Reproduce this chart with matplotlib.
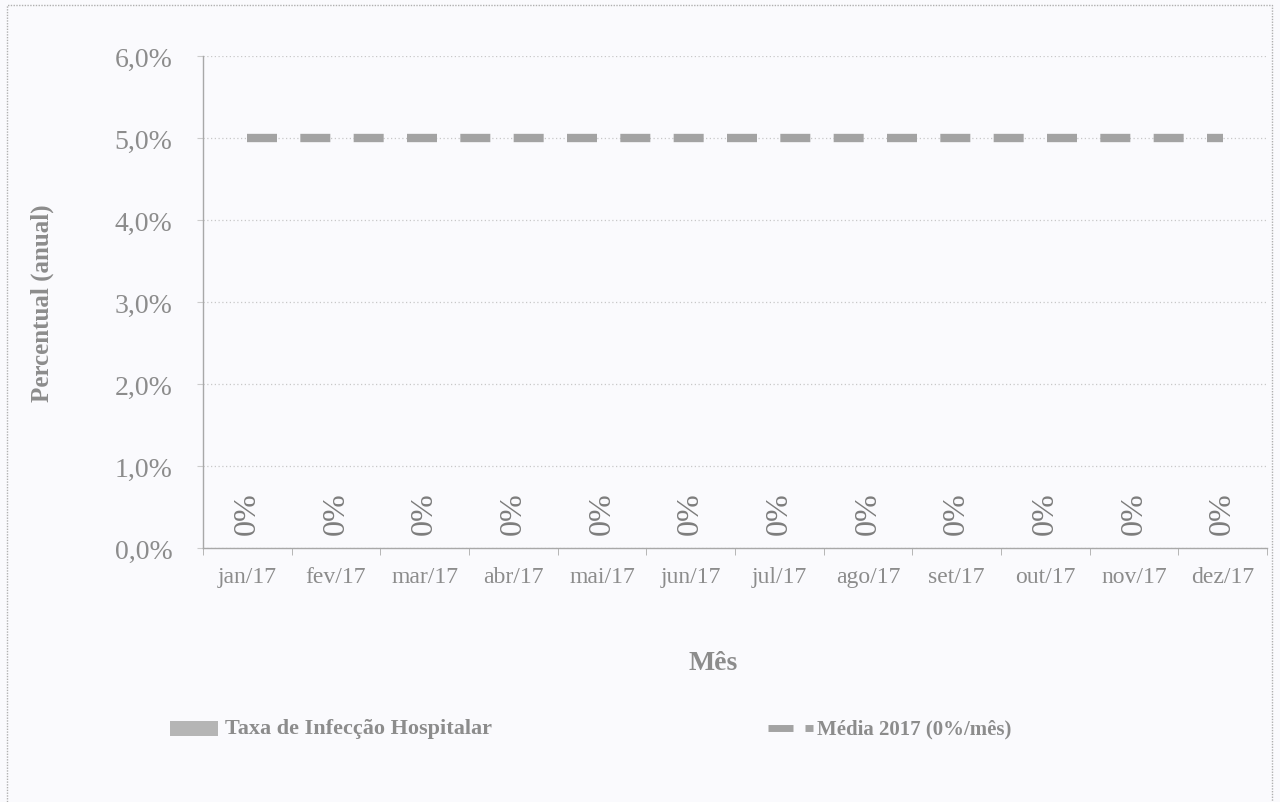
import matplotlib
matplotlib.use("Agg")
import matplotlib.pyplot as plt
from matplotlib.lines import Line2D
from matplotlib.patches import Rectangle

months = ["jan/17", "fev/17", "mar/17", "abr/17", "mai/17", "jun/17",
          "jul/17", "ago/17", "set/17", "out/17", "nov/17", "dez/17"]
taxa = [0, 0, 0, 0, 0, 0, 0, 0, 0, 0, 0, 0]
taxa_labels = ["0%"] * 12
media = [5.0] * 12
yticks = [0, 1, 2, 3, 4, 5, 6]
ytick_labels = ["0,0%", "1,0%", "2,0%", "3,0%", "4,0%", "5,0%", "6,0%"]
legend_labels = ["Taxa de Infecção Hospitalar", "Média 2017 (0%/mês)"]

plt.rcParams['font.family'] = ['Liberation Serif', 'DejaVu Serif']
TXT = '#8c8c8c'
BG = '#fafafd'
LINEC = '#a3a3a3'

W, H = 1280, 803
fig = plt.figure(figsize=(12.8, 8.03), dpi=100, facecolor=BG)
ax = fig.add_axes([203 / W, 1 - 549 / H, (1267 - 203) / W, (549 - 57) / H], facecolor=BG)

x = list(range(len(months)))
ax.bar(x, taxa, width=0.6, color='#b0b0b0', zorder=2)
for xi, lab in zip(x, taxa_labels):
    ax.annotate(lab, (xi, 0), xytext=(0, 10), textcoords='offset points',
                rotation=90, ha='center', va='bottom', fontsize=23,
                color='#7d7d7d')

ax.plot(x, media, color=LINEC, lw=6, dashes=(3.6, 2.8),
        solid_capstyle='butt', dash_capstyle='butt', zorder=3)

ax.set_xlim(-0.5, len(months) - 0.5)
ax.set_ylim(0, 6)
ax.set_yticks(yticks)
ax.set_yticklabels(ytick_labels, fontsize=20, color=TXT)
ax.set_xticks(x)
ax.set_xticklabels(months, fontsize=17, color=TXT)
ax.set_xticks([i + 0.5 for i in range(-1, len(months))], minor=True)
ax.tick_params(axis='x', which='major', length=0, pad=13)
ax.tick_params(axis='x', which='minor', length=5, color='#aaaaaa', direction='out')
ax.tick_params(axis='y', length=4, color='#cccccc', pad=18)

ax.grid(axis='y', color='#c8c8c8', linestyle=(0, (1, 2)), lw=0.9, zorder=0)
for s in ['top', 'right']:
    ax.spines[s].set_visible(False)
for s in ['left', 'bottom']:
    ax.spines[s].set_color('#a8a8a8')
    ax.spines[s].set_linestyle((0, (1, 1)))
    ax.spines[s].set_linewidth(1.0)

fig.text(42 / W, 1 - 303 / H, "Percentual (anual)", rotation=90, ha='center', va='center',
         fontsize=18, fontweight='bold', color=TXT)
fig.text(713 / W, 1 - 664 / H, "Mês", ha='center', va='center',
         fontsize=20, fontweight='bold', color=TXT)

# legend (drawn manually)
fig.patches.append(Rectangle((170 / W, 1 - 737 / H), 48 / W, 15 / H,
                             transform=fig.transFigure, facecolor='#b5b5b5', edgecolor='none'))
fig.text(225 / W, 1 - 729 / H, legend_labels[0], ha='left', va='center',
         fontsize=16, fontweight='bold', color=TXT)
fig.lines.append(Line2D([768 / W, 793 / W], [1 - 729 / H, 1 - 729 / H], transform=fig.transFigure,
                        color=LINEC, lw=5, solid_capstyle='butt'))
fig.lines.append(Line2D([805 / W, 813 / W], [1 - 729 / H, 1 - 729 / H], transform=fig.transFigure,
                        color=LINEC, lw=5, solid_capstyle='butt'))
fig.text(817 / W, 1 - 729 / H, legend_labels[1], ha='left', va='center',
         fontsize=15, fontweight='bold', color=TXT)

fig.patches.append(Rectangle((7 / W, -0.01), 1265 / W, 1 - 6 / H + 0.01,
                             transform=fig.transFigure, fill=False,
                             edgecolor='#b0b0b0', lw=1.0, linestyle=(0, (1, 1))))

fig.savefig("out.png", dpi=100, facecolor=BG)
